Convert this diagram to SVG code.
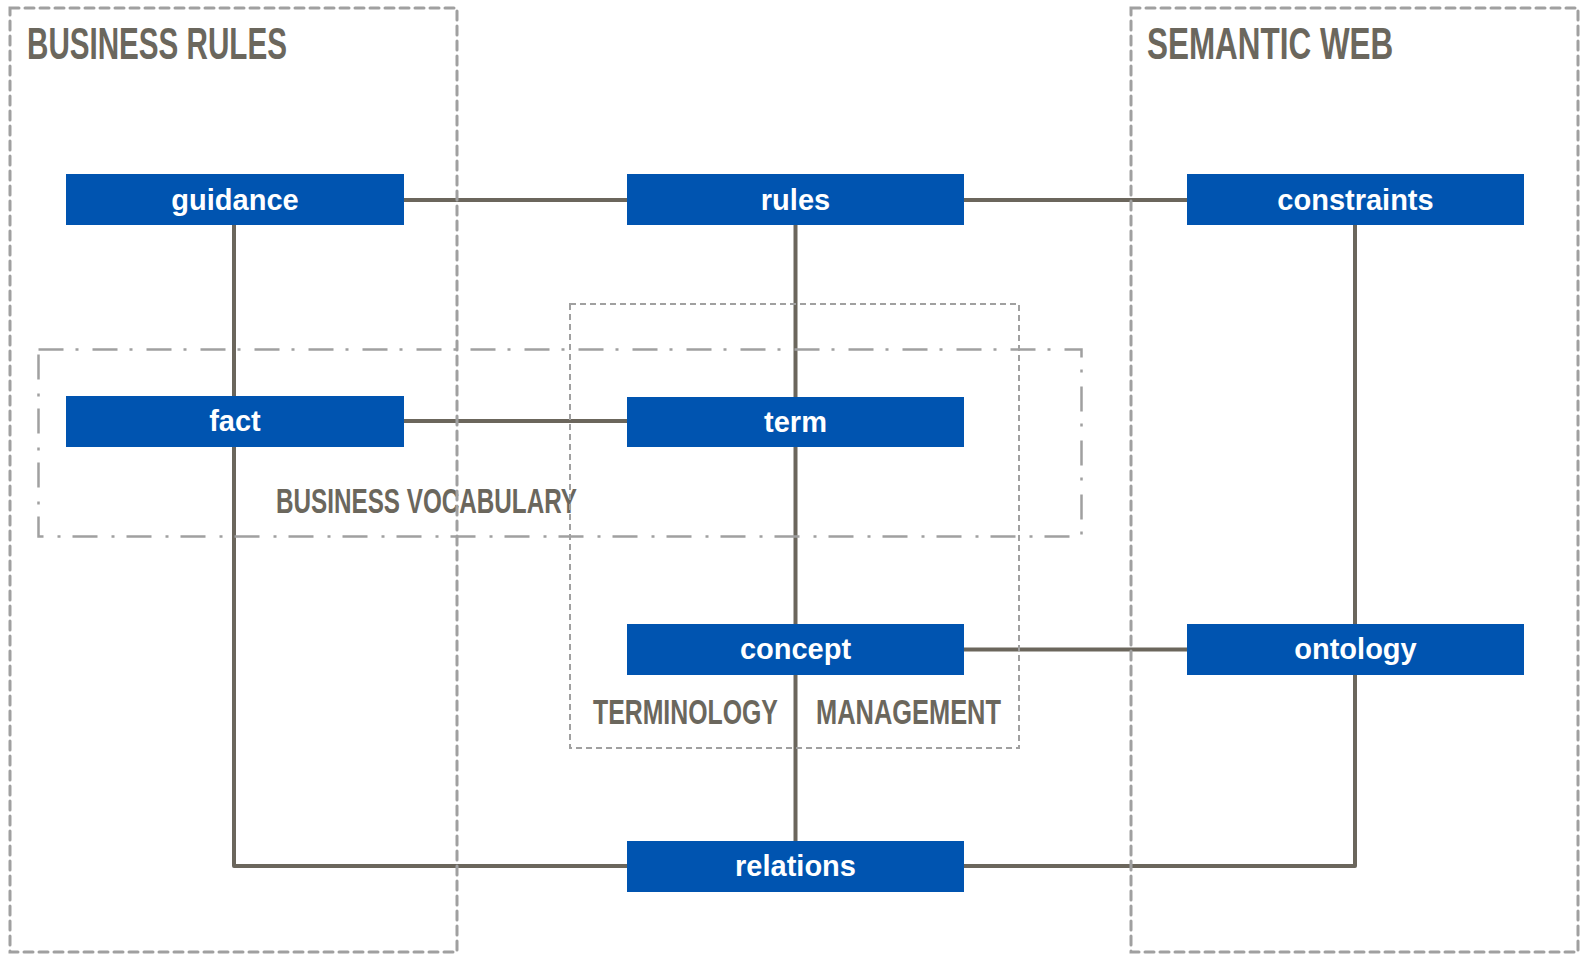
<svg xmlns="http://www.w3.org/2000/svg" width="1582" height="954" viewBox="0 0 1582 954">
<defs>
<style>
.node rect{fill:#0054b0;}
.node text{fill:#ffffff;font-family:"Liberation Sans",Arial,sans-serif;font-weight:bold;font-size:29px;text-anchor:middle;}
.conn path{fill:none;stroke:#6b665c;stroke-width:4;stroke-linecap:round;stroke-linejoin:round;}
.title{fill:#6b675d;font-family:"Liberation Sans",Arial,sans-serif;font-weight:bold;}
.outer{fill:none;stroke:#a0a0a0;stroke-width:3;stroke-dasharray:9 6;stroke-linecap:round;}
.term{fill:none;stroke:#a0a0a0;stroke-width:2;stroke-dasharray:6 4;}
.vocab{fill:none;stroke:#a0a0a0;stroke-width:2.5;stroke-dasharray:25 12 3 14;}
</style>
</defs>
<rect width="1582" height="954" fill="#ffffff"/>
<g id="connectors" class="conn">
<path d="M404 200 H627"/>
<path d="M964 200 H1187"/>
<path d="M234 225 V396"/>
<path d="M795.5 225 V397"/>
<path d="M1355 225 V624"/>
<path d="M404 421 H627"/>
<path d="M795.5 447 V624"/>
<path d="M964 649.5 H1187"/>
<path d="M234 447 V866 H627"/>
<path d="M795.5 675 V841"/>
<path d="M1355 675 V866 H964"/>
</g>
<g id="guidance" class="node"><rect x="66" y="174" width="338" height="51"/><text x="235" y="210">guidance</text></g>
<g id="rules" class="node"><rect x="627" y="174" width="337" height="51"/><text x="795.5" y="210">rules</text></g>
<g id="constraints" class="node"><rect x="1187" y="174" width="337" height="51"/><text x="1355.5" y="210">constraints</text></g>
<g id="fact" class="node"><rect x="66" y="396" width="338" height="51"/><text x="235" y="431">fact</text></g>
<g id="term" class="node"><rect x="627" y="397" width="337" height="50"/><text x="795.5" y="432">term</text></g>
<g id="concept" class="node"><rect x="627" y="624" width="337" height="51"/><text x="795.5" y="659">concept</text></g>
<g id="ontology" class="node"><rect x="1187" y="624" width="337" height="51"/><text x="1355.5" y="659">ontology</text></g>
<g id="relations" class="node"><rect x="627" y="841" width="337" height="51"/><text x="795.5" y="876">relations</text></g>
<g id="labels">
<text class="title" transform="translate(27,59) scale(0.72,1)" x="0" y="0" font-size="45" textLength="361" lengthAdjust="spacingAndGlyphs">BUSINESS RULES</text>
<text class="title" transform="translate(1147,59) scale(0.72,1)" x="0" y="0" font-size="45" textLength="342" lengthAdjust="spacingAndGlyphs">SEMANTIC WEB</text>
<text class="title" transform="translate(276,513) scale(0.72,1)" x="0" y="0" font-size="36" textLength="418" lengthAdjust="spacingAndGlyphs">BUSINESS VOCABULARY</text>
<text class="title" transform="translate(593,724) scale(0.69,1)" x="0" y="0" font-size="36" textLength="268" lengthAdjust="spacingAndGlyphs">TERMINOLOGY</text>
<text class="title" transform="translate(816,724) scale(0.706,1)" x="0" y="0" font-size="36" textLength="262" lengthAdjust="spacingAndGlyphs">MANAGEMENT</text>
</g>
<g id="groups">
<rect class="outer" x="10" y="8" width="447" height="944"/>
<rect class="outer" x="1131" y="8" width="447" height="944"/>
<rect class="term" x="570" y="304" width="449" height="444"/>
<rect class="vocab" x="38.5" y="349.5" width="1043" height="187"/>
</g>
</svg>
